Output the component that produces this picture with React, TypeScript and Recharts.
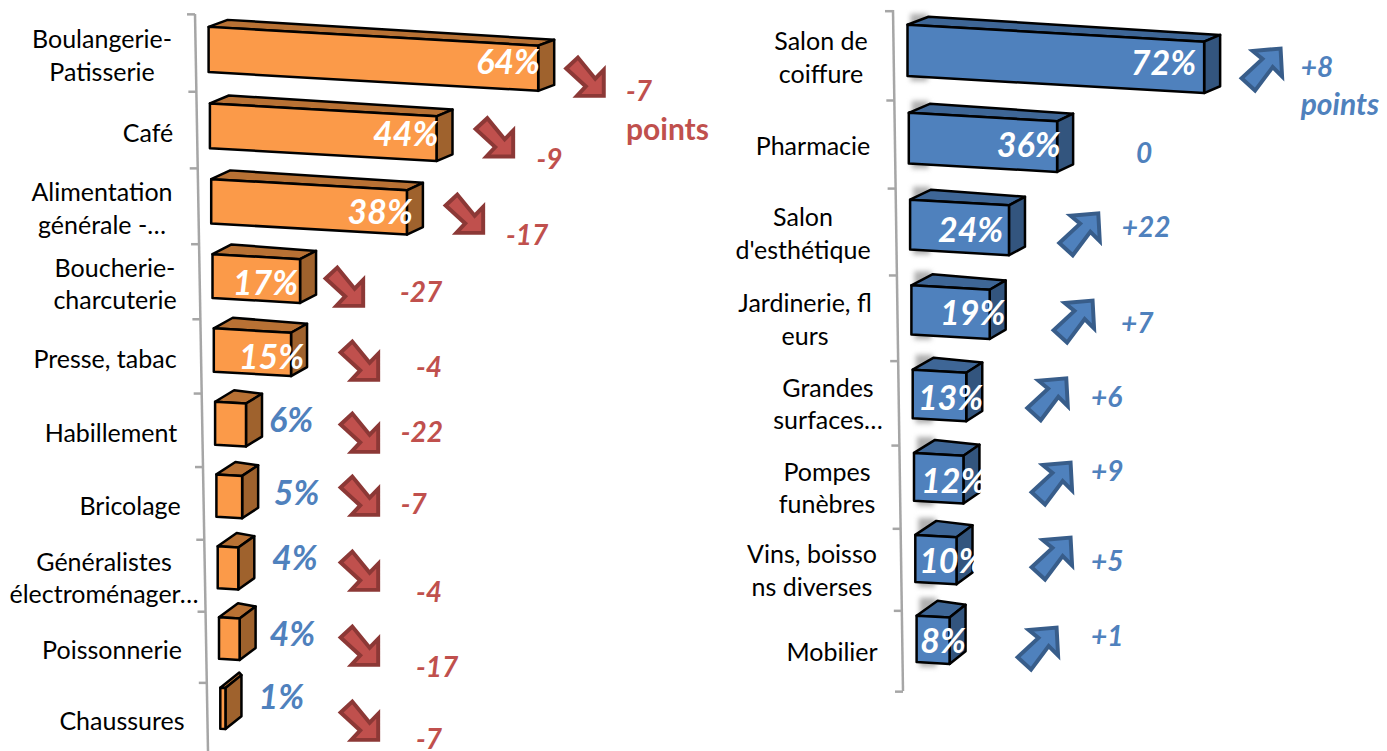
import { BarChart, Bar, XAxis, YAxis, LabelList } from "recharts";

// share of respondents per shop type, with the change in points next to it
const leftCategories = [
  "Boulangerie-\nPatisserie",
  "Café",
  "Alimentation\ngénérale -…",
  "Boucherie-\ncharcuterie",
  "Presse, tabac",
  "Habillement",
  "Bricolage",
  "Généralistes\nélectroménager…",
  "Poissonnerie",
  "Chaussures",
];
const leftShares = [64, 44, 38, 17, 15, 6, 5, 4, 4, 1];
const leftDeltas = [-7, -9, -17, -27, -4, -22, -7, -4, -17, -7];

const rightCategories = [
  "Salon de\ncoiffure",
  "Pharmacie",
  "Salon\nd'esthétique",
  "Jardinerie, fl\neurs",
  "Grandes\nsurfaces…",
  "Pompes\nfunèbres",
  "Vins, boisso\nns diverses",
  "Mobilier",
];
const rightShares = [72, 36, 24, 19, 13, 12, 10, 8];
const rightDeltas = [8, 0, 22, 7, 6, 9, 5, 1];

const FONT = "Lato, Carlito, sans-serif";
const RED = "#c0504d";
const BLUE = "#4f81bd";

type Panel = {
  left: number;
  width: number;
  plotLeft: number;
  pxPerPct: number;
  band: number;
  barSize: number;
  warp: [number, number, number];
  depth: [number, number];
  backLeft: number;
  colors: { front: string; top: string; side: string };
  shadow: boolean;
  axis: [number, number, number, number];
  tickOffset: [number, number];
  labelOffset: [number, number];
  categoryCenter: number[];
  pctDx: number[];
  pctDy: number[];
  pctOutside: boolean[];
  arrowAt: ([number, number] | null)[];
  deltaAt: [number, number][];
  pointsY: number;
  pointsItalic: boolean;
};

const leftPanel: Panel = {
  left: 0,
  width: 720,
  plotLeft: 208.6,
  pxPerPct: 5.15,
  band: 73,
  barSize: 43,
  warp: [49.5, 76.7, -0.39],
  depth: [7, 0.9],
  backLeft: 19,
  colors: { front: "#fb9a49", top: "#b87134", side: "#9f622d" },
  shadow: false,
  axis: [195, 14, 208, 751],
  tickOffset: [3.3, 0.7],
  labelOffset: [6.5, 0.7],
  categoryCenter: [102, 148, 102, 115, 105, 111, 130, 104, 112, 122],
  pctDx: [1.8, 1.8, 6, -2, 13, 23, 31.7, 33.8, 29.8, 33],
  pctDy: [24.5, 20.5, 23, 19, 19, 8.5, 9, 3, 7.7, 1],
  pctOutside: [false, false, false, false, false, true, true, true, true, true],
  arrowAt: [
    [563.6, 55],
    [473, 115.6],
    [443, 192],
    [323, 265],
    [338, 339],
    [338, 411],
    [338, 474],
    [338, 549],
    [338, 624],
    [338, 699],
  ],
  deltaAt: [
    [626, 101],
    [536.5, 169],
    [506, 245],
    [400, 302],
    [416, 377],
    [400.7, 441.7],
    [400.7, 514],
    [416, 601.7],
    [416, 676.7],
    [416, 749],
  ],
  pointsY: 140,
  pointsItalic: false,
};

const rightPanel: Panel = {
  left: 720,
  width: 667,
  plotLeft: 907.5,
  pxPerPct: 4.12,
  band: 86,
  barSize: 50,
  warp: [50.5, 88.3, -0.606],
  depth: [8, 1],
  backLeft: 21,
  colors: { front: "#4f81bd", top: "#3e6696", side: "#33557e" },
  shadow: true,
  axis: [893, 10, 903, 691],
  tickOffset: [5, 1],
  labelOffset: [7.5, 0.8],
  categoryCenter: [821, 813, 803, 805, 828, 827, 812, 832],
  pctDx: [-8, 3.5, -5.7, 15.7, 17, 23, 28, 16.4],
  pctDy: [24.5, 18.7, 17, 15, 16, 15.7, 14.4, 14],
  pctOutside: [false, false, false, false, false, false, false, false],
  arrowAt: [
    [1239, 46],
    null,
    [1056.7, 210.7],
    [1051, 298],
    [1024.7, 375.7],
    [1029, 460],
    [1029, 535],
    [1015, 625],
  ],
  deltaAt: [
    [1300.7, 76.7],
    [1136, 162.7],
    [1121.7, 237.3],
    [1121, 333],
    [1091, 406.7],
    [1091, 481],
    [1091, 571],
    [1091, 646],
  ],
  pointsY: 115,
  pointsItalic: true,
};

const DOWN_ARROW = "0,12.3 13.3,0 33,24 42.7,14 42.7,43.5 12.3,43.5 22.3,32.8";
const UP_ARROW = "12.7,2.7 44.3,0 46,31.7 35.3,21 15.3,47.7 0,33.7 23.7,11.7";

// the original is a tilted 3D chart: rows get closer together towards the bottom
const rowOf = (p: Panel, y: number) => y / p.band - 0.5;
const warpRow = (p: Panel, t: number) => p.warp[0] + p.warp[1] * t + p.warp[2] * t * t;

const pts = (list: number[][]) => list.map((q) => q.join(",")).join(" ");

function Bar3D(props: any) {
  const { x, y, width, height, index, panel } = props;
  const p: Panel = panel;
  const slope = 0.057;
  const x0 = x + index * 1.3;
  const x1 = x0 + width;
  const yT = warpRow(p, rowOf(p, y));
  const yB = warpRow(p, rowOf(p, y + height));
  const drop = width * slope;
  const dy = -(p.depth[0] + p.depth[1] * index);
  const a = [x0, yT];
  const b = [x1, yT + drop];
  const c = [x1, yB + drop];
  const d = [x0, yB];
  const bk = [x0 + p.backLeft, yT + dy];
  const br = [x1 + 16, yT + drop + dy * 0.85];
  const cr = [x1 + 16, yB + drop + dy * 0.85];
  const line = { stroke: "#000", strokeWidth: 2.5, strokeLinejoin: "round" as const };
  return (
    <g>
      {p.shadow && (
        <rect
          x={x0 + 3}
          y={yT + dy - 3}
          width={17}
          height={yB - yT - dy + 8}
          fill="#b0b0b0"
          style={{ filter: "blur(2.5px)" }}
        />
      )}
      <polygon points={pts([a, bk, br, b])} fill={p.colors.top} {...line} />
      <polygon points={pts([b, br, cr, c])} fill={p.colors.side} {...line} />
      <polygon points={pts([a, b, c, d])} fill={p.colors.front} {...line} />
    </g>
  );
}

function CategoryTick(props: any) {
  const { y, payload, panel, index } = props;
  const p: Panel = panel;
  const t = rowOf(p, y);
  const lines = String(payload.value).split("\n");
  const yc = warpRow(p, t) + p.labelOffset[0] + p.labelOffset[1] * t;
  const cx = p.categoryCenter[index] - p.left;
  return (
    <text textAnchor="middle" fontFamily={FONT} fontSize={25} fill="#000">
      {lines.map((l, i) => (
        <tspan key={i} x={cx} y={yc + 8.5 + (i - (lines.length - 1) / 2) * 32.5}>
          {l}
        </tspan>
      ))}
    </text>
  );
}

function PctLabel(props: any) {
  const { x, y, width, height, value, index, panel } = props;
  const p: Panel = panel;
  const t = rowOf(p, y + height / 2);
  const outside = p.pctOutside[index];
  return (
    <text
      x={x + index * 1.3 + width + p.pctDx[index]}
      y={warpRow(p, t) + p.pctDy[index]}
      textAnchor={outside ? "start" : "end"}
      fontFamily={FONT}
      fontWeight={700}
      fontStyle="italic"
      fontSize={34}
      fill={outside ? BLUE : "#fff"}
    >
      {value}%
    </text>
  );
}

// slanted axis with its row ticks, arrows and point changes
function Annotations({ panel: p, deltas }: { panel: Panel; deltas: number[] }) {
  const [ax0, ay0, ax1, ay1] = p.axis;
  const axisX = (y: number) => ax0 + ((y - ay0) * (ax1 - ax0)) / (ay1 - ay0) - p.left;
  const bounds = Array.from({ length: deltas.length + 1 }, (_, i) => i - 0.5);
  return (
    <g>
      <line x1={ax0 - p.left} y1={ay0} x2={ax1 - p.left} y2={ay1} stroke="#a6a6a6" strokeWidth={2.5} />
      {bounds.map((t) => {
        const y = warpRow(p, t) + p.tickOffset[0] + p.tickOffset[1] * (t + 0.5);
        if (y > 745) return null;
        return (
          <line key={t} x1={axisX(y) - 8} y1={y} x2={axisX(y)} y2={y} stroke="#a6a6a6" strokeWidth={2.5} />
        );
      })}
      {deltas.map((delta, i) => {
        const at = p.arrowAt[i];
        const color = p === leftPanel ? RED : BLUE;
        const [dx, dy] = p.deltaAt[i];
        return (
          <g key={i}>
            {at && (
              <polygon
                transform={`translate(${at[0] - p.left + 2.6},${at[1] + 2.6}) scale(0.88)`}
                points={delta < 0 ? DOWN_ARROW : UP_ARROW}
                fill={color}
                stroke={delta < 0 ? "#8c3836" : "#385d8a"}
                strokeWidth={4.5}
                strokeLinejoin="miter"
              />
            )}
            <text
              x={dx - p.left}
              y={dy}
              fontFamily={FONT}
              fontWeight={700}
              fontStyle="italic"
              fontSize={28}
              fill={color}
            >
              {delta > 0 ? `+${delta}` : delta}
            </text>
            {i === 0 && (
              <text
                x={dx - p.left}
                y={p.pointsY}
                fontFamily={FONT}
                fontWeight={700}
                fontStyle={p.pointsItalic ? "italic" : "normal"}
                fontSize={30}
                fill={color}
              >
                points
              </text>
            )}
          </g>
        );
      })}
    </g>
  );
}

function ShopChart({ panel, categories, shares, deltas }: { panel: Panel; categories: string[]; shares: number[]; deltas: number[] }) {
  const data = categories.map((name, i) => ({ name, share: shares[i] }));
  const plotX = panel.plotLeft - panel.left;
  const plotH = panel.band * categories.length;
  return (
    <div style={{ position: "absolute", left: panel.left, top: 0 }}>
      <BarChart
        width={panel.width}
        height={751}
        data={data}
        layout="vertical"
        barCategoryGap={0}
        margin={{ top: 0, left: 0, bottom: 751 - plotH, right: panel.width - plotX - panel.pxPerPct * 100 }}
      >
        <XAxis type="number" domain={[0, 100]} hide />
        <YAxis
          type="category"
          dataKey="name"
          width={plotX}
          axisLine={false}
          tickLine={false}
          interval={0}
          tick={(t: any) => <CategoryTick {...t} panel={panel} />}
        />
        <Annotations panel={panel} deltas={deltas} />
        <Bar
          dataKey="share"
          barSize={panel.barSize}
          isAnimationActive={false}
          shape={(s: any) => <Bar3D {...s} panel={panel} />}
        >
          <LabelList dataKey="share" content={(l: any) => <PctLabel {...l} panel={panel} />} />
        </Bar>
      </BarChart>
    </div>
  );
}

export default function App() {
  return (
    <div style={{ position: "absolute", left: 0, top: 0, width: 1387, height: 751, overflow: "hidden", background: "#fff" }}>
      <ShopChart panel={leftPanel} categories={leftCategories} shares={leftShares} deltas={leftDeltas} />
      <ShopChart panel={rightPanel} categories={rightCategories} shares={rightShares} deltas={rightDeltas} />
    </div>
  );
}
